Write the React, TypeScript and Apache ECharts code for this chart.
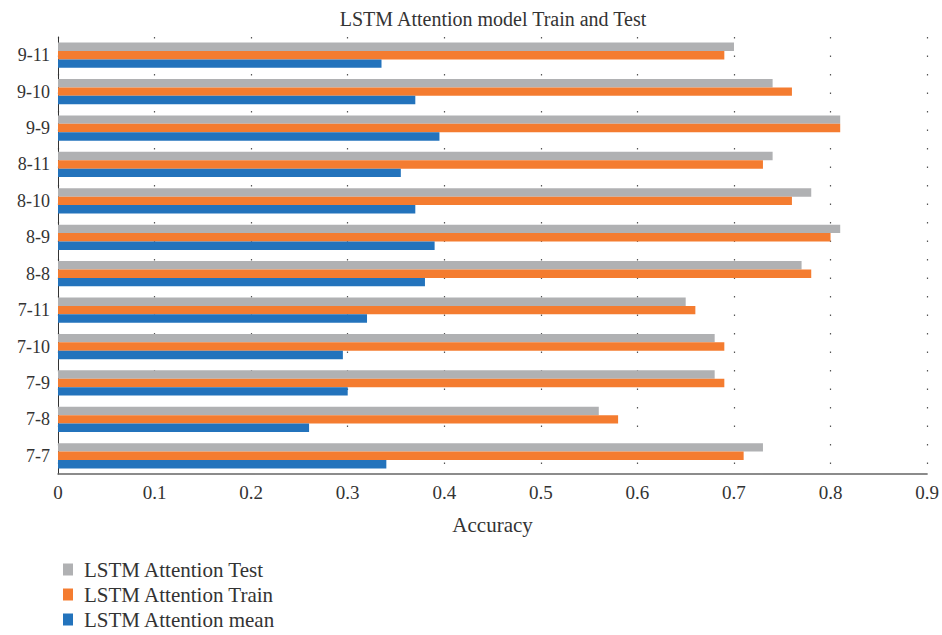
import React, { useEffect, useRef } from "react";
import * as echarts from "echarts";

const categories = ["7-7", "7-8", "7-9", "7-10", "7-11", "8-8", "8-9", "8-10", "8-11", "9-9", "9-10", "9-11"];
const testValues = [0.73, 0.56, 0.68, 0.68, 0.65, 0.77, 0.81, 0.78, 0.74, 0.81, 0.74, 0.70];
const trainValues = [0.71, 0.58, 0.69, 0.69, 0.66, 0.78, 0.80, 0.76, 0.73, 0.81, 0.76, 0.69];
const meanValues = [0.34, 0.26, 0.30, 0.295, 0.32, 0.38, 0.39, 0.37, 0.355, 0.395, 0.37, 0.335];
const legendNames = ["LSTM Attention Test", "LSTM Attention Train", "LSTM Attention mean"];
const xTicks = [0, 0.1, 0.2, 0.3, 0.4, 0.5, 0.6, 0.7, 0.8, 0.9];

const FONT = "Liberation Serif";
const legendText = { fontFamily: FONT, fontSize: 21, color: "#333", lineHeight: 20, padding: [0, 0, 0, 6] };

export default function App() {
  const ref = useRef<HTMLDivElement>(null);
  useEffect(() => {
    const chart = echarts.init(ref.current!, null, { renderer: "svg" });
    chart.setOption({
      animation: false,
      textStyle: { fontFamily: FONT },
      title: {
        text: "LSTM Attention model Train and Test",
        left: 488,
        textAlign: "center",
        top: 4,
        textStyle: { fontFamily: FONT, fontSize: 20, fontWeight: "normal", color: "#333" },
      },
      grid: { left: 58, right: 13, top: 37, bottom: 635 - 474 },
      legend: {
        orient: "vertical",
        left: 58,
        top: 554,
        height: 90,
        data: legendNames,
        icon: "rect",
        itemWidth: 10,
        itemHeight: 12,
        itemGap: 4,
        textStyle: legendText,
      },
      xAxis: {
        type: "value",
        min: 0,
        max: 0.9,
        interval: 0.1,
        name: "Accuracy",
        nameLocation: "middle",
        nameGap: 40,
        nameTextStyle: { fontFamily: FONT, fontSize: 21, color: "#333" },
        axisLine: { show: true, lineStyle: { color: "#666", width: 1.5 } },
        axisTick: { show: false },
        axisLabel: {
          fontFamily: FONT,
          fontSize: 19,
          color: "#333",
          margin: 9,
          formatter: (v: number) => {
            const t = xTicks.find((x) => Math.abs(x - v) < 1e-9);
            return t === undefined ? "" : String(t);
          },
        },
        splitLine: { show: true, lineStyle: { color: "#555", width: 1.2, type: [1.5, 17] } },
      },
      yAxis: {
        type: "category",
        data: categories,
        axisLine: { show: true, lineStyle: { color: "#333", width: 1 } },
        axisTick: { show: false },
        axisLabel: { fontFamily: FONT, fontSize: 18, color: "#333", margin: 8 },
      },
      series: [
        { name: legendNames[0], type: "bar", data: testValues, barWidth: 8.4, barGap: "0%", itemStyle: { color: "#B0B1B3" } },
        { name: legendNames[1], type: "bar", data: trainValues, barWidth: 8.4, barGap: "0%", itemStyle: { color: "#F47C30" } },
        { name: legendNames[2], type: "bar", data: meanValues, barWidth: 8.4, barGap: "0%", itemStyle: { color: "#2373BC" } },
      ],
    });
    return () => chart.dispose();
  }, []);
  return <div ref={ref} style={{ width: 942, height: 635, position: "absolute", left: 0, top: 0 }} />;
}
